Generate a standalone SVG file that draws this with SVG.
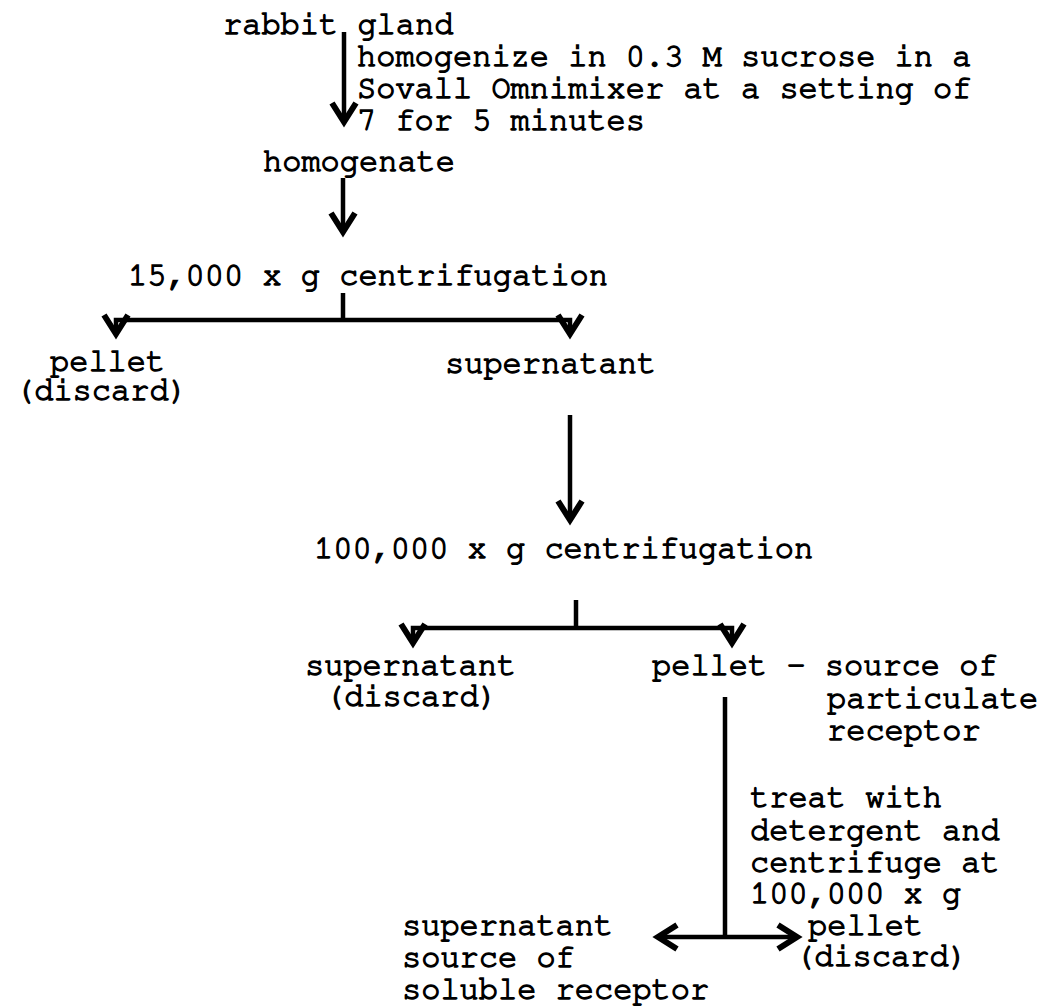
<svg xmlns="http://www.w3.org/2000/svg" width="1044" height="1008" viewBox="0 0 1044 1008">
<defs>
<style>
text{font-family:"Nimbus Mono PS","FreeMono","Courier","Liberation Mono",monospace;font-size:32px;fill:#000;stroke:#000;stroke-width:1.3px}
.ln{fill:none;stroke:#000;stroke-width:4.5;stroke-linecap:butt;stroke-linejoin:miter}
</style>
<marker id="ah" markerUnits="userSpaceOnUse" viewBox="-26 -16 32 32" refX="0" refY="0" markerWidth="32" markerHeight="32" orient="auto">
<path d="M-19,-12 L0,0 L-19,12" fill="none" stroke="#000" stroke-width="6" stroke-linejoin="miter"/>
</marker>
</defs>
<rect width="1044" height="1008" fill="#fff"/>
<g id="connectors">
<line class="ln" x1="344" y1="32" x2="344" y2="122" marker-end="url(#ah)"/>
<line class="ln" x1="343" y1="178" x2="343" y2="232" marker-end="url(#ah)"/>
<line class="ln" x1="343" y1="293" x2="343" y2="320"/>
<path class="ln" d="M343,320 H116 V334" marker-end="url(#ah)"/>
<path class="ln" d="M343,320 H570 V334" marker-end="url(#ah)"/>
<line class="ln" x1="570" y1="415" x2="570" y2="520" marker-end="url(#ah)"/>
<line class="ln" x1="576" y1="600" x2="576" y2="628"/>
<path class="ln" d="M576,628 H413 V643" marker-end="url(#ah)"/>
<path class="ln" d="M576,628 H732 V643" marker-end="url(#ah)"/>
<line class="ln" x1="725" y1="697" x2="725" y2="937"/>
<line class="ln" x1="725" y1="937" x2="658" y2="937" marker-end="url(#ah)"/>
<line class="ln" x1="725" y1="937" x2="797" y2="937" marker-end="url(#ah)"/>
</g>
<g id="n-rabbit"><text x="223" y="34">rabbit gland</text></g>
<g id="l-homogenize">
<text x="357" y="66">homogenize in 0.3 M sucrose in a</text>
<text x="357" y="98">Sovall Omnimixer at a setting of</text>
<text x="357" y="130">7 for 5 minutes</text>
</g>
<g id="n-homogenate"><text x="263" y="171">homogenate</text></g>
<g id="n-15000"><text x="128" y="285">15,000 x g centrifugation</text></g>
<g id="n-pellet1"><text x="50" y="371">pellet</text><text x="15" y="400">(discard)</text></g>
<g id="n-super1"><text x="445" y="373">supernatant</text></g>
<g id="n-100000"><text x="314" y="558">100,000 x g centrifugation</text></g>
<g id="n-super2"><text x="305" y="675">supernatant</text><text x="325" y="706">(discard)</text></g>
<g id="n-pellet2"><text x="652" y="675">pellet - source of</text><text x="827" y="708">particulate</text><text x="827" y="740">receptor</text></g>
<g id="l-treat">
<text x="750" y="807">treat with</text>
<text x="750" y="840">detergent and</text>
<text x="750" y="872">centrifuge at</text>
<text x="750" y="903">100,000 x g</text>
</g>
<g id="n-pellet3"><text x="808" y="935">pellet</text><text x="795" y="966">(discard)</text></g>
<g id="n-super3"><text x="402" y="935">supernatant</text><text x="402" y="967">source of</text><text x="402" y="999">soluble receptor</text></g>
</svg>
